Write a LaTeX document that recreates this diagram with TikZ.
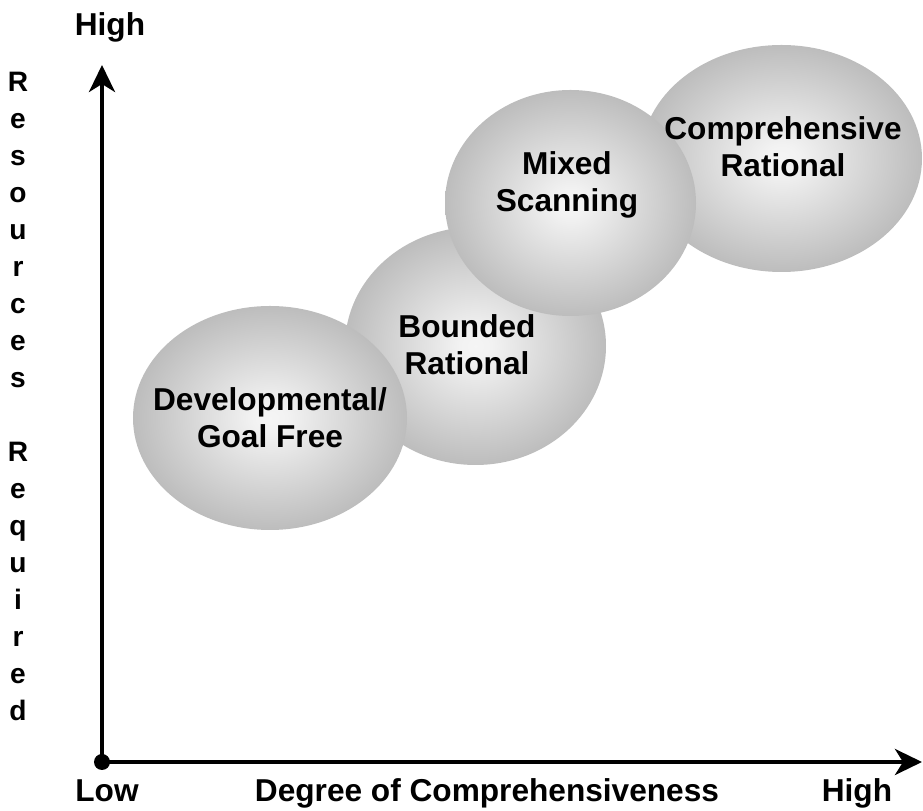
\documentclass[tikz,border=0pt]{standalone}
\usepackage{fontspec}
\setmainfont{Liberation Sans}
\usetikzlibrary{arrows.meta}

\pgfdeclareradialshading{ballshade}{\pgfpoint{0bp}{0bp}}{%
	color(0bp)=(white!96!black); color(3bp)=(white!95!black); color(25bp)=(black!26); color(50bp)=(black!26)}

\begin{document}
\begin{tikzpicture}
	
	\tikzset{axis line/.style={line width=2.3pt, -{Stealth[length=5.4mm, width=5.2mm, inset=1.6mm]}}}
	\tikzset{ball/.style={shading=ballshade}}
	\tikzset{label text/.style={font=\fontsize{18}{21}\selectfont\bfseries, align=center, inner sep=0pt}}
	\tikzset{side text/.style={font=\fontsize{16}{19}\selectfont\bfseries, inner sep=0pt, anchor=base}}
	
	\useasboundingbox (0,0) rectangle (18.46,16.22);
	
	% the four approaches, back ones first
	\shade[ball] (15.63,13.05) ellipse (2.81 and 2.27);
	\shade[ball] (9.51,9.30) ellipse (2.61 and 2.38);
	\shade[ball] (11.41,12.16) ellipse (2.51 and 2.26);
	\shade[ball] (5.40,7.86) ellipse (2.74 and 2.24);
	
	\node[label text] (dev) at (5.40,7.86) {Developmental/\\Goal Free};
	\node[label text] (bounded) at (9.34,9.32) {Bounded\\Rational};
	\node[label text] (mixed) at (11.34,12.52) {Mixed\\Scanning};
	\node[label text] (comp) at (15.66,13.28) {Comprehensive\\Rational};
	
	% axes
	\coordinate (origin) at (2.04,0.98);
	\coordinate (ytop) at (2.04,14.92);
	\coordinate (xend) at (18.44,0.98);
	
	\draw[axis line] (origin) -- (ytop);
	\draw[axis line] (origin) -- (xend);
	\fill (origin) circle (0.16);
	
	\node[label text, anchor=base] (yhigh) at (2.2,15.5) {High};
	\node[label text, anchor=base] (xlow) at (2.14,0.18) {Low};
	\node[label text, anchor=base] (xname) at (9.74,0.18) {Degree of Comprehensiveness};
	\node[label text, anchor=base] (xhigh) at (17.14,0.18) {High};
	
	% vertical axis name, one letter per line
	\foreach \ch [count=\i from 0] in {R,e,s,o,u,r,c,e,s,{},R,e,q,u,i,r,e,d}
		\node[side text] (res\i) at (0.36,14.38-0.74*\i) {\ch};
	
\end{tikzpicture}
\end{document}
